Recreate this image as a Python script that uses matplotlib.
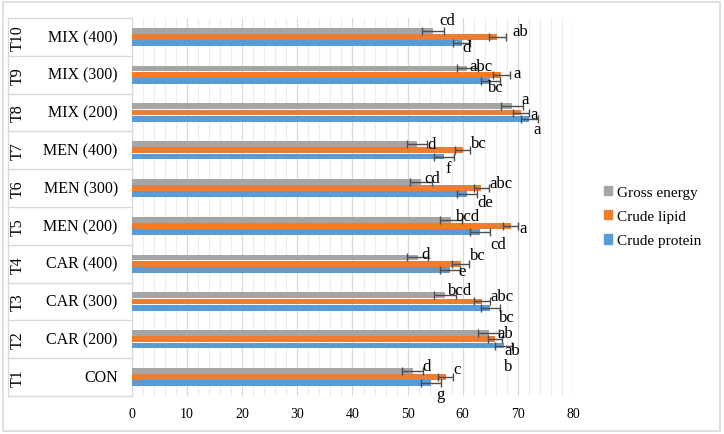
import numpy as np
import matplotlib.pyplot as plt
from matplotlib.patches import Patch, Rectangle
import matplotlib.transforms as mtransforms

plt.rcParams['font.family'] = ['Liberation Serif', 'DejaVu Serif']

# data, T1 at bottom
treat = ['T1', 'T2', 'T3', 'T4', 'T5', 'T6', 'T7', 'T8', 'T9', 'T10']
names = ['CON', 'CAR (200)', 'CAR (300)', 'CAR (400)', 'MEN (200)', 'MEN (300)',
         'MEN (400)', 'MIX (200)', 'MIX (300)', 'MIX (400)']
gross = [50.9, 64.7, 56.7, 51.8, 57.8, 52.5, 51.7, 69.0, 60.8, 54.6]
gross_err = [1.9, 1.9, 2.0, 1.9, 2.0, 2.0, 1.9, 2.0, 1.9, 2.0]
lipid = [56.9, 65.9, 63.5, 59.6, 68.7, 63.4, 60.0, 70.6, 67.0, 66.3]
lipid_err = [1.4, 1.3, 1.4, 1.5, 1.4, 1.35, 1.4, 1.4, 1.5, 1.5]
protein = [54.3, 67.4, 65.0, 57.7, 63.1, 60.8, 56.6, 72.1, 65.0, 59.8]
protein_err = [1.8, 1.5, 1.75, 1.75, 1.8, 1.75, 1.8, 1.6, 1.7, 1.6]
gross_lab = ['d', 'ab', 'bcd', 'd', 'bcd', 'cd', 'd', 'a', 'abc', 'cd']
lipid_lab = ['c', 'ab', 'abc', 'bc', 'a', 'abc', 'bc', 'a', 'a', 'ab']
protein_lab = ['g', 'b', 'bc', 'e', 'cd', 'de', 'f', 'a', 'bc', 'd']

# label offsets from error bar end (x in data units, y in row units)
gross_off = [(0.7, 0.12), (1.2, 0.0), (0.9, 0.15), (-0.4, 0.09), (1.1, 0.09),
             (0.0, 0.09), (0.7, 0.0), (0.3, 0.19), (0.6, 0.07), (0.6, 0.28)]
lipid_off = [(0.6, 0.21), (1.8, -0.28), (2.3, 0.14), (1.6, 0.23), (0.8, -0.06),
             (2.15, 0.13), (1.6, 0.19), (1.0, -0.04), (1.3, 0.04), (2.7, 0.15)]
protein_off = [(-0.1, -0.28), (-0.7, -0.55), (1.25, -0.24), (0.45, -0.04), (1.6, -0.31),
               (1.55, -0.2), (-1.0, -0.31), (-0.2, -0.27), (-0.6, -0.15), (-0.7, -0.11)]

c_gray, c_orange, c_blue = '#A5A5A5', '#ED7D31', '#5B9BD5'

fig = plt.figure(figsize=(7.24, 4.35), dpi=100)
fig.patches.append(Rectangle((0.004, 0.008), 0.99, 0.985, transform=fig.transFigure,
                             fill=False, edgecolor='#d9d9d9', lw=1.2))
ax = fig.add_axes([0.1823, 0.0874, 0.6091, 0.8689])

y = np.arange(len(treat))
h = 0.155
off = 0.165
ekw = dict(ecolor='#4d4d4d', elinewidth=1.0, capsize=3, capthick=1.0)
series = [(gross, gross_err, c_gray, off, gross_lab, gross_off, 'Gross energy'),
          (lipid, lipid_err, c_orange, 0.0, lipid_lab, lipid_off, 'Crude lipid'),
          (protein, protein_err, c_blue, -off, protein_lab, protein_off, 'Crude protein')]
for vals, errs, col, dy, labs, offs, name in series:
    ax.barh(y + dy, vals, height=h, color=col, xerr=errs, error_kw=ekw, zorder=3)
    for i in range(len(vals)):
        ax.text(vals[i] + errs[i] + offs[i][0], y[i] + dy + offs[i][1], labs[i],
                fontsize=12, ha='center', va='center', zorder=4)

ax.set_xlim(0, 80)
ax.set_ylim(-0.5, 9.5)
ax.set_xticks(np.arange(0, 81, 10))
ax.set_xticks(np.arange(0, 81, 2), minor=True)
ax.grid(axis='x', which='major', color='#d9d9d9', lw=0.9, zorder=0)
ax.grid(axis='x', which='minor', color='#ececec', lw=0.8, zorder=0)
ax.tick_params(axis='x', which='both', length=0, labelsize=10, pad=8)
ax.set_yticks([])
for s in ['top', 'right', 'bottom']:
    ax.spines[s].set_visible(False)
ax.spines['left'].set_color('#d9d9d9')

# multi-level category table
tr = mtransforms.blended_transform_factory(ax.transAxes, ax.transData)
xl = -0.281
for b in np.arange(-0.5, 10, 1.0):
    ax.plot([xl, 0], [b, b], color='#d9d9d9', lw=1.0, transform=tr, clip_on=False)
ax.plot([xl, xl], [-0.5, 9.5], color='#d9d9d9', lw=1.0, transform=tr, clip_on=False)
for i in range(len(treat)):
    ax.text(-0.2585, y[i], treat[i], rotation=90, fontsize=11.5, ha='center',
            va='center', transform=tr)
    ax.text(-0.032, y[i], names[i], fontsize=11.5, ha='right', va='center', transform=tr)

handles = [Patch(color=c_gray), Patch(color=c_orange), Patch(color=c_blue)]
fig.legend(handles, ['Gross energy', 'Crude lipid', 'Crude protein'],
           loc='center left', bbox_to_anchor=(0.815, 0.5), frameon=False,
           fontsize=11, handlelength=0.55, handleheight=0.55, handletextpad=0.3,
           labelspacing=0.75)

fig.savefig('out.png', dpi=100)
